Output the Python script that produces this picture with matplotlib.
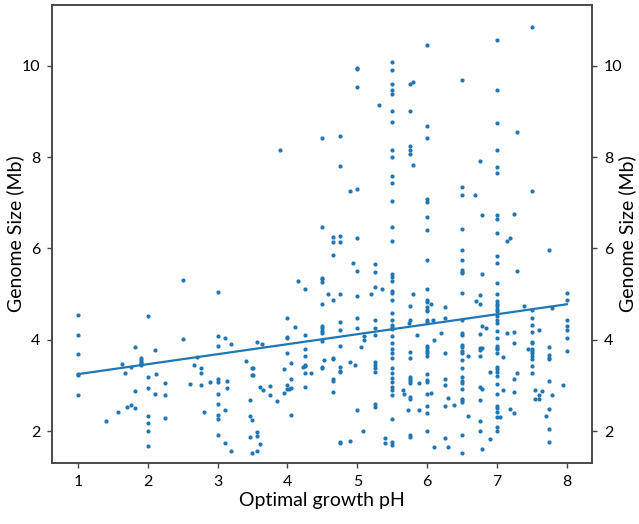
import numpy as np
import matplotlib
matplotlib.use("Agg")
import matplotlib.pyplot as plt

plt.rcParams['font.family'] = ['Lato', 'DejaVu Sans']

# optimal growth pH columns and genome sizes (Mb)
ph_low = [1.0, 1.4, 1.57, 1.63, 1.68, 1.71, 1.76, 1.82, 1.91, 2.0, 2.11, 2.12,
          2.25, 2.5, 2.61, 2.66, 2.71, 2.76, 2.81, 2.89, 3.0, 3.11, 3.13, 3.19,
          3.41, 3.47, 3.5, 3.51, 3.56, 3.57, 3.61, 3.64, 3.65, 3.75, 3.85, 3.9, 3.95]
size_low = [[4.55, 4.1, 3.68, 3.26, 3.22, 2.8], [2.22], [2.41], [3.47], [3.27], [2.52],
            [3.4, 2.58], [3.84, 2.88, 2.5], [3.59, 3.55, 3.51, 3.48, 3.44],
            [4.53, 3.18, 2.94, 2.33, 2.17, 2.0, 1.68], [3.77, 2.82], [3.25],
            [3.05, 2.78, 2.29], [5.31, 4.02], [3.02], [3.44], [3.62], [3.37, 3.28, 3.0],
            [2.41], [3.07], [5.04, 4.08, 3.86, 3.13, 3.07, 2.82, 2.6, 2.36, 2.26, 1.91],
            [4.03, 2.47, 1.74], [3.09, 2.95], [3.91, 1.57], [3.53], [2.69, 2.33, 1.86],
            [3.38, 3.22, 2.24, 1.53], [3.39, 3.22], [1.97, 1.90, 1.57], [3.96],
            [2.96, 1.72], [3.90], [2.9], [2.98, 2.8], [2.66], [8.15], [3.35, 2.84]]

ph_mid = [4.0, 4.02, 4.05, 4.11, 4.15, 4.23, 4.25, 4.34, 4.5, 4.53, 4.58, 4.65, 4.75,
          4.9, 4.94, 4.97, 5.0, 5.06, 5.08, 5.09, 5.2, 5.25, 5.31, 5.35, 5.4, 5.5,
          5.65, 5.67, 5.72, 5.74, 5.75, 5.8, 5.85, 5.88, 5.89]
size_mid = [[4.47, 4.06, 4.04, 3.70, 3.0, 2.91], [2.92], [3.49, 3.14, 2.95, 2.35], [4.28],
            [5.28], [3.41], [5.12, 4.10, 3.79, 3.64, 3.45, 3.42, 3.28, 2.97], [3.28],
            [8.42, 6.46, 5.36, 5.32, 5.27, 4.78, 4.30, 4.25, 4.19, 4.14, 3.97, 3.41, 3.37],
            [3.55], [5.01], [6.24, 6.15, 5.85, 4.88, 3.6, 3.57, 3.13, 3.1, 2.85],
            [8.45, 7.81, 6.28, 6.14, 5.01, 4.39, 4.21, 3.86, 3.41, 3.32, 3.29, 1.77, 1.73],
            [7.25, 3.52, 1.79], [5.68], [3.44],
            [9.96, 9.92, 9.53, 7.3, 6.23, 5.51, 4.95, 4.48, 4.25, 2.46], [3.84], [1.99],
            [4.08, 4.0], [4.99],
            [5.65, 5.48, 5.15, 4.44, 4.25, 4.11, 3.51, 3.44, 3.37, 3.3, 2.59, 2.52],
            [9.15], [5.10], [1.84, 1.74],
            [10.09, 9.91, 9.61, 9.47, 9.38, 9.0, 8.77, 8.16, 8.0, 7.58, 7.44, 7.03, 6.47,
             6.16, 5.43, 5.37, 5.28, 5.07, 5.03, 4.86, 4.59, 4.44, 4.32, 4.27, 4.23, 4.08,
             3.93, 3.79, 3.70, 3.6, 3.39, 3.28, 3.17, 3.07, 2.97, 2.9, 2.8, 2.26, 1.77, 1.69],
            [2.9], [2.81], [2.46], [4.37],
            [9.6, 9.0, 8.24, 8.16, 8.07, 4.73, 4.43, 3.72, 3.61, 3.19, 3.14, 3.09, 3.06,
             2.75, 2.70, 1.91, 1.88],
            [9.64, 7.82, 5.01], [4.11], [3.06], [2.46]]

ph_high = [6.0, 6.05, 6.09, 6.1, 6.2, 6.25, 6.3, 6.39, 6.5, 6.59, 6.69, 6.7, 6.75, 6.79,
           6.84, 6.9, 7.0, 7.04, 7.09, 7.14, 7.19, 7.24, 7.29, 7.38, 7.45, 7.5, 7.55,
           7.6, 7.65, 7.7, 7.74, 7.79, 7.94, 8.0]
size_high = [[10.46, 8.67, 8.42, 7.09, 7.01, 6.68, 6.41, 5.75, 5.10, 4.86, 4.83, 4.72,
              4.66, 4.62, 4.43, 4.39, 3.86, 3.81, 3.76, 3.70, 3.64, 3.25, 3.11, 3.08,
              2.82, 2.55, 2.39, 1.99],
             [4.78, 2.84], [4.43], [3.99, 1.64], [4.14],
             [4.72, 4.48, 3.71, 3.15, 3.01, 2.55, 1.84], [2.73, 1.66], [2.57],
             [9.69, 7.34, 7.17, 6.43, 5.96, 5.75, 5.53, 5.48, 5.45, 5.02, 4.44, 4.15,
              4.10, 3.88, 3.83, 3.75, 3.70, 3.55, 3.37, 3.19, 3.09, 3.06, 2.91, 2.71,
              2.68, 2.63, 1.91, 1.53],
             [3.64, 2.33], [7.17], [4.85],
             [7.92, 4.97, 4.79, 4.12, 3.81, 3.77, 3.64, 2.97, 2.68, 2.22, 2.01],
             [6.72, 5.43, 4.30, 3.81, 2.93, 1.60], [4.25], [3.30, 1.83],
             [10.56, 9.47, 8.74, 8.16, 7.79, 7.65, 6.74, 6.65, 6.33, 5.83, 5.67, 5.24,
              4.99, 4.85, 4.79, 4.73, 4.68, 4.62, 4.51, 4.43, 4.37, 4.19, 4.03, 3.86,
              3.82, 3.79, 3.70, 3.41, 3.36, 3.30, 3.20, 3.04, 2.82, 2.55, 2.50, 2.42,
              2.31, 2.09, 2.01],
             [2.31], [3.62, 2.9], [6.17, 4.14], [6.22, 2.48],
             [6.75, 4.16, 3.92, 3.13, 2.86, 2.39], [8.54, 5.50, 3.27], [4.73], [3.79],
             [10.84, 7.25, 4.66, 4.48, 4.32, 4.17, 3.95, 3.92, 3.79, 3.75, 3.70, 3.64,
              3.57, 3.43, 3.27],
             [2.9, 2.70], [4.22, 2.79, 2.70], [2.87], [2.33],
             [5.96, 3.84, 3.66, 3.61, 3.57, 3.09, 2.48, 2.04, 1.75], [4.70, 2.80], [3.01],
             [5.02, 4.86, 4.44, 4.30, 4.21, 4.04, 3.76]]

x = []
y = []
for cols, sizes in [(ph_low, size_low), (ph_mid, size_mid), (ph_high, size_high)]:
    for p, vals in zip(cols, sizes):
        x += [p] * len(vals)
        y += vals
x = np.array(x)
y = np.array(y)

# linear fit
slope, intercept = np.polyfit(x, y, 1)
xf = np.array([x.min(), x.max()])

fig = plt.figure(figsize=(6.39, 5.24), dpi=100)
ax = fig.add_axes([0.0814, 0.1164, 0.845, 0.8741])
ax.scatter(x, y, s=9, color='#1f77b4', linewidths=0)
ax.plot(xf, slope * xf + intercept, color='#1f77b4', lw=1.6)

ax.set_xlim(0.63, 8.36)
ax.set_ylim(1.3, 11.33)
ax.set_xticks(range(1, 9))
ax.set_yticks([2, 4, 6, 8, 10])
ax.set_xlabel('Optimal growth pH', fontsize=14, labelpad=2)
ax.set_ylabel('Genome Size (Mb)', fontsize=14, va='center')
ax.yaxis.set_label_coords(-0.068, 0.5)

ax2 = ax.twinx()
ax2.set_ylim(ax.get_ylim())
ax2.set_yticks([2, 4, 6, 8, 10])
ax2.set_ylabel('Genome Size (Mb)', fontsize=14, va='center')
ax2.yaxis.set_label_coords(1.066, 0.5)

for a in (ax, ax2):
    a.tick_params(labelsize=11.5, color='#444444', width=1.0, pad=5)
    for sp in a.spines.values():
        sp.set_color('#444444')
        sp.set_linewidth(1.1)

fig.savefig('out.png', dpi=100)
